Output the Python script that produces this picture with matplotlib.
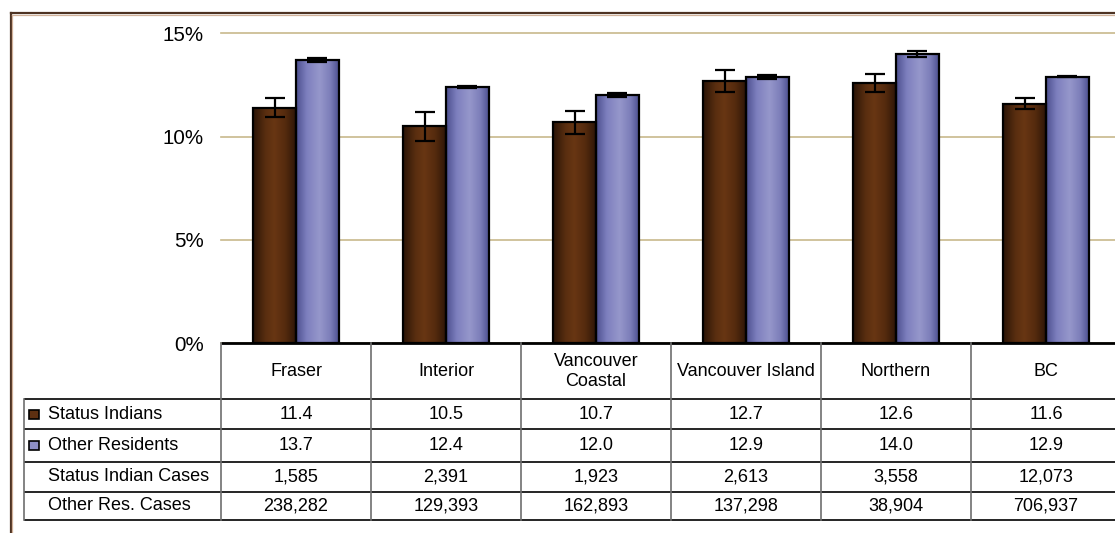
import matplotlib
matplotlib.use("Agg")
import matplotlib.pyplot as plt
import numpy as np
from matplotlib.colors import LinearSegmentedColormap
from matplotlib.lines import Line2D
from matplotlib.patches import Rectangle

# ---------------- data ----------------
categories = ["Fraser", "Interior", "Vancouver\nCoastal", "Vancouver Island", "Northern", "BC"]
status_indians = [11.4, 10.5, 10.7, 12.7, 12.6, 11.6]
other_residents = [13.7, 12.4, 12.0, 12.9, 14.0, 12.9]
status_err = [0.45, 0.70, 0.55, 0.54, 0.45, 0.25]
other_err = [0.10, 0.07, 0.10, 0.10, 0.16, 0.02]
status_cases = [1585, 2391, 1923, 2613, 3558, 12073]
other_cases = [238282, 129393, 162893, 137298, 38904, 706937]
row_labels = ["Status Indians", "Other Residents", "Status Indian Cases", "Other Res. Cases"]
yticks = [0, 5, 10, 15]
ytick_labels = ["0%", "5%", "10%", "15%"]

plt.rcParams['font.family'] = ['Liberation Sans', 'DejaVu Sans']

W, H = 1115, 533
fig = plt.figure(figsize=(W / 100, H / 100), dpi=100)

def fx(px):
    return px / W

def fy(py):
    return 1 - py / H

# outer border (extends past right and bottom edges)
fig.add_artist(Line2D([fx(10.5), fx(1200)], [fy(13.3), fy(13.3)], color="#4e3322", lw=1.6))
fig.add_artist(Line2D([fx(10.5), fx(10.5)], [fy(13.3), fy(600)], color="#4e3322", lw=1.6))
fig.add_artist(Line2D([fx(12.0), fx(1200)], [fy(14.8), fy(14.8)], color="#d2b29a", lw=0.9))
fig.add_artist(Line2D([fx(12.0), fx(12.0)], [fy(14.8), fy(600)], color="#d2b29a", lw=0.9))

# ---------------- main bar axes ----------------
ax_left, ax_right = 221, 1121
ax_top, ax_bottom = 33.3, 343.3
ax = fig.add_axes([fx(ax_left), fy(ax_bottom), (ax_right - ax_left) / W, (ax_bottom - ax_top) / H])

n = len(categories)
x = np.arange(n)
bw = 0.285
off = bw / 2

si_cmap = LinearSegmentedColormap.from_list("si", [
    (0.0, "#2a1406"), (0.3, "#5a2e10"), (0.5, "#683613"), (0.75, "#552b0e"), (1.0, "#2e1607")])
or_cmap = LinearSegmentedColormap.from_list("or", [
    (0.0, "#4c4f8e"), (0.25, "#7d7fbe"), (0.55, "#9697cb"), (0.8, "#7c7eb9"), (1.0, "#4d5090")])

b1 = ax.bar(x - off, status_indians, bw, color="#5e3011", zorder=2, linewidth=0)
b2 = ax.bar(x + off, other_residents, bw, color="#8e8fc6", zorder=2, linewidth=0)
grad = np.linspace(0, 1, 256).reshape(1, -1)
for bars, cmap in ((b1, si_cmap), (b2, or_cmap)):
    for p in bars:
        x0, w, h = p.get_x(), p.get_width(), p.get_height()
        im = ax.imshow(grad, cmap=cmap, extent=[x0, x0 + w, 0, h], aspect="auto",
                       zorder=2.5, interpolation="bicubic")
        im.set_clip_path(p)
ax.bar(x - off, status_indians, bw, fill=False, edgecolor="black", linewidth=1.6, zorder=3)
ax.bar(x + off, other_residents, bw, fill=False, edgecolor="black", linewidth=1.6, zorder=3)

ax.errorbar(x - off, status_indians, yerr=status_err, fmt="none", ecolor="black",
            elinewidth=1.6, capsize=7.5, capthick=1.6, zorder=4)
ax.errorbar(x + off, other_residents, yerr=other_err, fmt="none", ecolor="black",
            elinewidth=1.6, capsize=7.5, capthick=1.6, zorder=4)

ax.set_xlim(-0.5, n - 0.5)
ax.set_ylim(0, 15)
ax.set_yticks(yticks)
ax.set_yticklabels(ytick_labels, fontsize=14.8)
ax.tick_params(axis="y", length=0, pad=12.5)
ax.set_xticks([])
ax.yaxis.grid(True, color="#c8b98c", lw=1.2)
for gl in ax.get_ygridlines():
    gl.set_clip_on(False)
ax.set_axisbelow(True)
for s in ax.spines.values():
    s.set_visible(False)
ax.patch.set_alpha(0)

# ---------------- data table ----------------
tab_left, tab_top, tab_bottom = 24, 343.3, 520
px_per_cat = (ax_right - ax_left) / n
x_label_left = -0.5 - (ax_left - tab_left) / px_per_cat
tax = fig.add_axes([fx(tab_left), fy(tab_bottom), (ax_right - tab_left) / W, (tab_bottom - tab_top) / H])
tax.set_xlim(x_label_left, n - 0.5)
tax.set_ylim(tab_bottom, tab_top)
tax.axis("off")

row_edges = [399.3, 429.3, 461.7, 491.7, 520]
hdr_mid = (tab_top + row_edges[0]) / 2

# header top (axis) line
tax.plot([-0.5, n - 0.5], [tab_top, tab_top], color="black", lw=2, clip_on=False, solid_capstyle="butt")
# horizontal lines
for yv in row_edges:
    tax.plot([x_label_left, n - 0.5], [yv, yv], color="black", lw=1.2, clip_on=False, solid_capstyle="butt")
# vertical lines
for i in range(n + 1):
    tax.plot([i - 0.5, i - 0.5], [tab_top, tab_bottom], color="#6e6e6e", lw=1.2, clip_on=False)
tax.plot([x_label_left, x_label_left], [row_edges[0], tab_bottom], color="#6e6e6e", lw=1.2, clip_on=False)

fs = 13
for i, c in enumerate(categories):
    tax.text(i, hdr_mid, c, ha="center", va="center", fontsize=fs, linespacing=1.25)

rows = [
    [f"{v:.1f}" for v in status_indians],
    [f"{v:.1f}" for v in other_residents],
    [f"{v:,}" for v in status_cases],
    [f"{v:,}" for v in other_cases],
]
label_x = x_label_left + (47.5 - tab_left) / px_per_cat
sq_x = x_label_left + (29 - tab_left) / px_per_cat
sq_w = 9.6 / px_per_cat
legend_colors = ["#5e3011", "#8e8fc6", None, None]
for r in range(4):
    ymid = (row_edges[r] + row_edges[r + 1]) / 2
    tax.text(label_x, ymid, row_labels[r], ha="left", va="center", fontsize=fs)
    if legend_colors[r] is not None:
        tax.add_patch(Rectangle((sq_x, ymid - 4.8), sq_w, 9.6, facecolor=legend_colors[r],
                                edgecolor="black", lw=1.2))
    for i in range(n):
        tax.text(i, ymid, rows[r][i], ha="center", va="center", fontsize=fs)

fig.savefig("out.png", dpi=100)
